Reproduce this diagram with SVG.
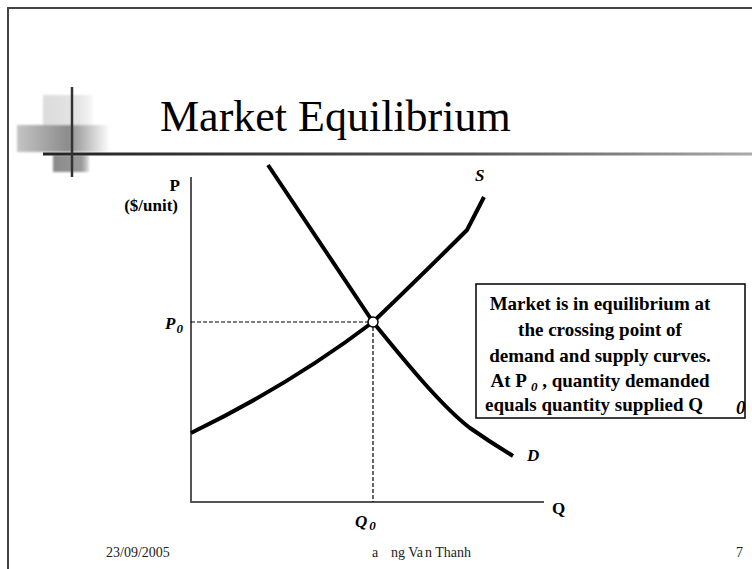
<svg xmlns="http://www.w3.org/2000/svg" width="752" height="569" viewBox="0 0 752 569">
<style>
.lbl{font-family:"Liberation Serif","Times New Roman",serif;font-weight:bold;font-size:17px;fill:#000}
.it{font-style:italic}
.sub{font-size:13px;font-style:italic;font-weight:bold}
.curve{fill:none;stroke:#000;stroke-width:4;stroke-linejoin:round}
.axis{stroke:#555;stroke-width:2;fill:none}
.dash{stroke:#000;stroke-width:1.2;stroke-dasharray:4 2;fill:none}
.boxt{font-family:"Liberation Serif","Times New Roman",serif;font-weight:bold;font-size:19px;fill:#000}
.foot{font-family:"Liberation Serif","Times New Roman",serif;font-size:14px;fill:#222}
.title{font-family:"Liberation Serif","Times New Roman",serif;font-size:44px;fill:#000}
</style>
<defs>
<linearGradient id="gMid" x1="0" x2="1" y1="0" y2="0">
<stop offset="0" stop-color="#c4c4c4"/>
<stop offset="0.55" stop-color="#8c8c8c"/>
<stop offset="1" stop-color="#ffffff"/>
</linearGradient>
<linearGradient id="gLight" x1="0" x2="1" y1="0" y2="0">
<stop offset="0" stop-color="#dcdcdc"/>
<stop offset="0.7" stop-color="#e4e4e4"/>
<stop offset="1" stop-color="#f8f8f8"/>
</linearGradient>
<linearGradient id="gDark" x1="0" x2="1" y1="0" y2="0">
<stop offset="0" stop-color="#8a8a8a"/>
<stop offset="0.8" stop-color="#9a9a9a"/>
<stop offset="1" stop-color="#e0e0e0"/>
</linearGradient>
<linearGradient id="gLine" x1="0" x2="1" y1="0" y2="0">
<stop offset="0" stop-color="#222"/>
<stop offset="0.6" stop-color="#555"/>
<stop offset="1" stop-color="#aaa"/>
</linearGradient>
<filter id="soft" x="-10%" y="-10%" width="120%" height="120%">
<feGaussianBlur stdDeviation="0.8"/>
</filter>
</defs>
<rect width="752" height="569" fill="#fff"/>
<path d="M8 569 V8 H752" fill="none" stroke="#444" stroke-width="2"/>
<g id="decoration">
<g filter="url(#soft)">
<rect x="43" y="95" width="50" height="32" fill="url(#gLight)"/>
<rect x="17" y="125" width="93" height="27" fill="url(#gMid)"/>
<rect x="53" y="155" width="36" height="17" fill="url(#gDark)"/>
</g>
<rect x="43" y="152.5" width="709" height="3" fill="url(#gLine)"/>
<line x1="72" y1="87" x2="72" y2="177" stroke="#333" stroke-width="2.5"/>
</g>
<text class="title" x="160" y="131">Market Equilibrium</text>
<g id="axes">
<path class="axis" d="M191 177 V502 H544"/>
<text class="lbl" x="180" y="191" text-anchor="end">P</text>
<text class="lbl" x="178" y="211" text-anchor="end">($/unit)</text>
<text class="lbl" x="552" y="514">Q</text>
</g>
<g id="connectors">
<path class="dash" d="M191 322 H368"/>
<path class="dash" d="M373 327 V502"/>
</g>
<g id="supply">
<path class="curve" d="M191 433 Q290 385 373 322 C400 296 445 252 467 230 L484 197"/>
<text class="lbl it" x="475" y="181" font-size="19">S</text>
</g>
<g id="demand">
<path class="curve" d="M268 165 L373 322 C400 355 440 405 470 428 Q490 442 513 456"/>
<text class="lbl it" x="527" y="461" font-size="19">D</text>
</g>
<g id="equilibrium">
<circle cx="373" cy="322" r="5" fill="#fff" stroke="#000" stroke-width="1.5"/>
<text class="lbl it" x="165" y="329" font-size="19">P<tspan class="sub" dx="1" dy="4">0</tspan></text>
<text class="lbl it" x="355" y="527" font-size="19">Q<tspan class="sub" dx="2" dy="3">0</tspan></text>
</g>
<g id="note">
<rect x="476" y="284" width="269" height="134" fill="#fff" stroke="#000" stroke-width="1.5"/>
<text class="boxt" x="600" y="309.5" text-anchor="middle">Market is in equilibrium at</text>
<text class="boxt" x="600" y="336" text-anchor="middle">the crossing point of</text>
<text class="boxt" x="600" y="362" text-anchor="middle">demand and supply curves.</text>
<text class="boxt" x="600" y="387" text-anchor="middle">At P<tspan class="sub" dx="4" dy="4">0</tspan><tspan dy="-4"> , quantity demanded</tspan></text>
<text class="boxt" x="485" y="411">equals quantity supplied Q</text>
<text class="boxt sub" x="736" y="414">0</text>
</g>
<g id="footer">
<text class="foot" x="106" y="557">23/09/2005</text>
<text class="foot" x="372" y="557">a</text>
<text class="foot" x="391" y="557">ng Va<tspan dx="2">n Thanh</tspan></text>
<text class="foot" x="736" y="557">7</text>
</g>
</svg>
